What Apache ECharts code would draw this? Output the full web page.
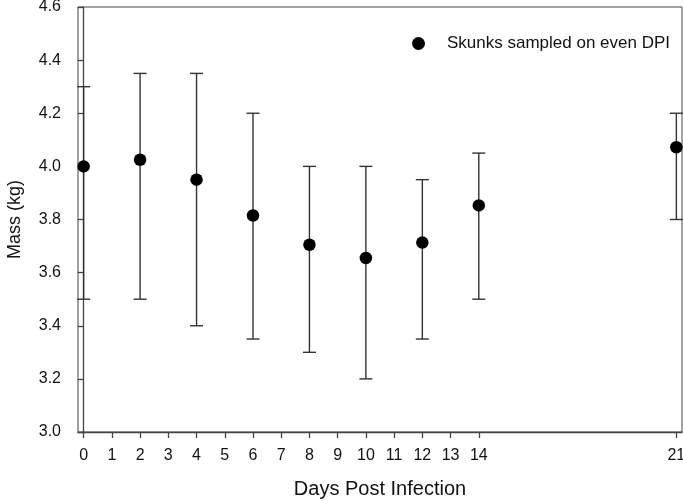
<!DOCTYPE html>
<html><head><meta charset="utf-8">
<script src="https://cdn.jsdelivr.net/npm/echarts@6/dist/echarts.min.js"></script>
<style>html,body{margin:0;padding:0;background:#fff}#c{width:683px;height:501px}</style>
</head><body><div id="c"></div>
<script>
var days = [0, 2, 4, 6, 8, 10, 12, 14, 21];
var meanMass = [4.00, 4.025, 3.95, 3.815, 3.705, 3.655, 3.713, 3.853, 4.072];
var upperMass = [4.30, 4.35, 4.35, 4.20, 4.00, 4.00, 3.95, 4.05, 4.20];
var lowerMass = [3.50, 3.50, 3.40, 3.35, 3.30, 3.20, 3.35, 3.50, 3.80];
var xTickValues = [0,1,2,3,4,5,6,7,8,9,10,11,12,13,14,21];
var seriesName = 'Skunks sampled on even DPI';

var FONT = '"Liberation Sans", Arial, sans-serif';
var AX = '#444';
var chart = echarts.init(document.getElementById('c'));
var errData = days.map(function(d, i){ return [d, lowerMass[i], upperMass[i]]; });
var ptData = days.map(function(d, i){ return [d, meanMass[i]]; });

chart.setOption({
  animation: false,
  backgroundColor: '#fff',
  grid: {left: 78, right: 1, top: 7, bottom: 69, show: true, borderColor: AX, borderWidth: 1,
    containLabel: false, outerBoundsMode: 'none'},
  legend: {
    data: [{name: seriesName, icon: 'circle'}],
    left: 407, top: 30, itemWidth: 13, itemHeight: 13,
    textStyle: {fontFamily: FONT, fontSize: 17, color: '#111', padding: [0,0,0,17]}
  },
  xAxis: {
    type: 'value', min: -0.2, max: 21.2,
    name: 'Days Post Infection', nameLocation: 'middle', nameGap: 47,
    nameTextStyle: {fontFamily: FONT, fontSize: 20, color: '#111'},
    axisLine: {lineStyle: {color: AX, width: 1.3}},
    axisTick: {show: true, length: 6, lineStyle: {color: AX, width: 1.3}, customValues: xTickValues},
    axisLabel: {fontFamily: FONT, fontSize: 16, color: '#111', margin: 16, customValues: xTickValues},
    splitLine: {show: false}
  },
  yAxis: {
    type: 'value', min: 3.0, max: 4.6, interval: 0.2,
    name: 'Mass (kg)', nameLocation: 'middle', nameGap: 54, nameRotate: 90,
    nameTextStyle: {fontFamily: FONT, fontSize: 18, color: '#111'},
    axisLine: {show: true, lineStyle: {color: AX, width: 1.3}},
    axisTick: {show: true, length: 6, lineStyle: {color: AX, width: 1.3}},
    axisLabel: {fontFamily: FONT, fontSize: 16, color: '#111', margin: 17,
      formatter: function(v){ return v.toFixed(1); }},
    splitLine: {show: false}
  },
  series: [
    {
      type: 'custom', name: 'err', data: errData, z: 2,
      renderItem: function(params, api){
        var x = api.value(0);
        var lo = api.coord([x, api.value(1)]);
        var hi = api.coord([x, api.value(2)]);
        var hw = 6.5;
        var st = {stroke: '#333', lineWidth: 1.4};
        return {type: 'group', children: [
          {type: 'line', shape: {x1: lo[0], y1: lo[1], x2: hi[0], y2: hi[1]}, style: st},
          {type: 'line', shape: {x1: lo[0]-hw, y1: lo[1], x2: lo[0]+hw, y2: lo[1]}, style: st},
          {type: 'line', shape: {x1: hi[0]-hw, y1: hi[1], x2: hi[0]+hw, y2: hi[1]}, style: st}
        ]};
      }
    },
    {
      type: 'scatter', name: seriesName, data: ptData, symbol: 'circle', symbolSize: 12.5, z: 3,
      itemStyle: {color: '#000', opacity: 1}
    }
  ]
});
</script></body></html>
